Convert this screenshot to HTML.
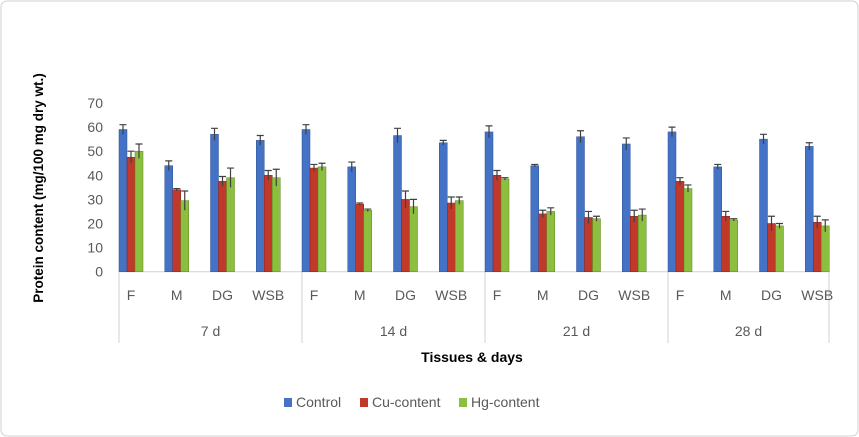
<!DOCTYPE html>
<html><head><meta charset="utf-8"><style>
body{margin:0;background:#fff;}
svg{display:block;font-family:"Liberation Sans",sans-serif;}
</style></head><body>
<svg id="chart" width="859" height="437" viewBox="0 0 859 437">
<rect x="1" y="1" width="857" height="435" rx="6" fill="#fff" stroke="#d0d0d0"/>
<g id="plot"></g>
</svg>
<script>
const groups=["7 d","14 d","21 d","28 d"];
const tissues=["F","M","DG","WSB"];
const control=[59,44,57,54.5, 59,43.5,56.5,53.5, 58,44,56,53, 58,43.5,55,52];
const cu=[47.5,34,37.5,40, 43,28,30,28.5, 40,24,22.5,23, 37.5,23,20,20.5];
const hg=[50,29.5,39,39, 43.5,25.5,27,29.5, 38.5,25,22,23.5, 34.5,21.5,19,19];
const controlErr=[2,2,2.5,2, 2,2,3,1, 2.5,0.5,2.5,2.5, 2,1,2,1.5];
const cuErr=[2.5,0.5,2,2, 1.5,0.5,3.5,2.5, 2,1.5,2.5,2.5, 1.5,2,3,2.5];
const hgErr=[3,4,4,3.5, 1.5,0.5,3,1.5, 0.5,1.5,1,2.5, 1.5,0.5,1,2.5];
const yTicks=[0,10,20,30,40,50,60,70];
const series=[{name:"Control",v:control,e:controlErr,c:"#4472c4",d:"#2f5597"},
{name:"Cu-content",v:cu,e:cuErr,c:"#c0392b",d:"#8e1f17"},
{name:"Hg-content",v:hg,e:hgErr,c:"#8cbf3f",d:"#5e8a22"}];
const NS="http://www.w3.org/2000/svg";
const g=document.getElementById('plot');
function mk(t,a,txt){const e=document.createElementNS(NS,t);for(const k in a)e.setAttribute(k,a[k]);if(txt!==undefined)e.textContent=txt;g.appendChild(e);return e;}
const y0=271.7,ppu=2.41;
const y=v=>y0-v*ppu;
const cx=i=>131+i*45.75;
yTicks.forEach(t=>{const e=mk('text',{x:103,y:y(t)+5,'text-anchor':'end','font-size':14,fill:'#595959'},t);

});
const ax=mk('line',{x1:119,x2:829,y1:y0,y2:y0,stroke:'#d0d0d0'});


const bnd=[119,302,485,668,829];
bnd.forEach(b=>{const l=mk('line',{x1:b,x2:b,y1:y0,y2:343,stroke:'#d0d0d0'});

});
groups.forEach((gr,k)=>{const e=mk('text',{x:(bnd[k]+bnd[k+1])/2,y:336,'text-anchor':'middle','font-size':14,fill:'#595959'},gr);

});
for(let i=0;i<16;i++){
 const t=mk('text',{x:cx(i),y:300,'text-anchor':'middle','font-size':14,fill:'#595959'},tissues[i%4]);
 
 
 series.forEach((s,j)=>{
  const bx=cx(i)-12+j*8;
  const r=mk('rect',{x:bx,y:y(s.v[i]),width:8,height:s.v[i]*ppu,fill:s.c,stroke:s.d,'stroke-width':0.5});
  
  
  const top=y(s.v[i]+s.e[i]);
  const p=mk('path',{d:`M${bx+4},${y(s.v[i]-s.e[i])}V${top}M${bx+0.5},${top}H${bx+7.5}`,stroke:'#404040','stroke-width':1.2,fill:'none'});
  
  
 });
}
const yt=mk('text',{x:0,y:0,transform:'translate(43,188) rotate(-90)','text-anchor':'middle','font-size':13.5,'font-weight':'bold',fill:'#000'},'Protein content (mg/100 mg dry wt.)');


const xt=mk('text',{x:472,y:362,'text-anchor':'middle','font-size':14,'font-weight':'bold',fill:'#000'},'Tissues & days');


const lx=[284,360,459];
series.forEach((s,j)=>{
 const r=mk('rect',{x:lx[j],y:398,width:8,height:9,fill:s.c});
 
 
 const t=mk('text',{x:lx[j]+12,y:407,'font-size':14,fill:'#595959'},s.name);
 
 
});
</script>
</body></html>
